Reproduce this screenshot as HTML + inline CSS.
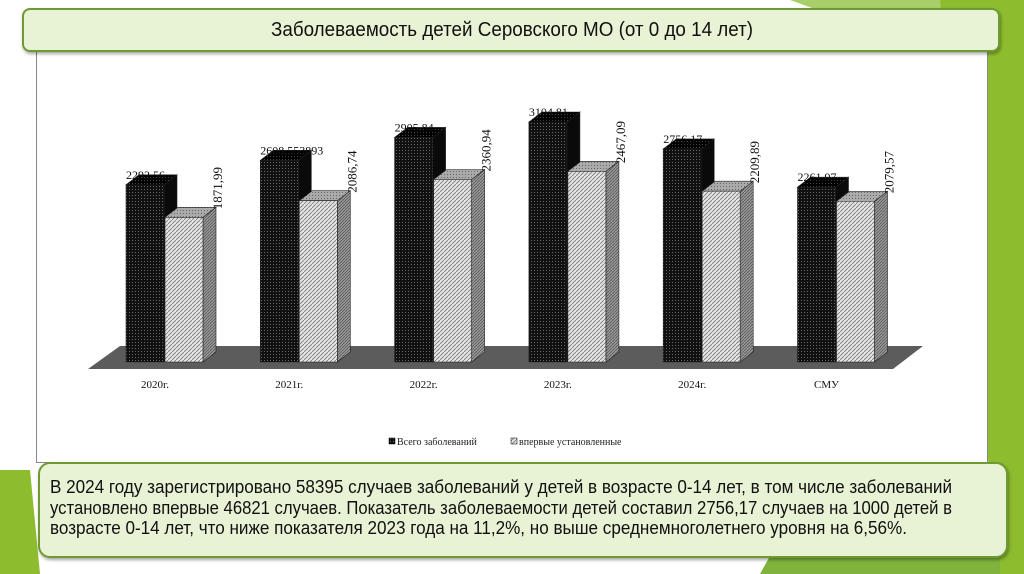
<!DOCTYPE html>
<html><head><meta charset="utf-8">
<style>
body{margin:0;width:1024px;height:574px;overflow:hidden;background:#fff;position:relative;font-family:"Liberation Sans",sans-serif;}
.abs{position:absolute;}
.fit{position:absolute;white-space:nowrap;transform-origin:0 0;}
</style></head><body>
<svg class="abs" style="left:0;top:0" width="1024" height="574">
  <polygon points="790,0 1024,0 1024,40 900,40" fill="#a9cf6a"/>
  <polygon points="940,0 1024,0 1024,574 1000,574" fill="#8dbd2e"/>
  <polygon points="0,470 30,470 40,574 0,574" fill="#8dbd2e"/>
  <polygon points="760,574 790,520 1000,520 1000,574" fill="#7fb33b"/>
</svg>
<div class="abs" style="left:36px;top:48px;width:950px;height:413px;background:#fff;border:1px solid #888;"></div>
<div class="abs" style="left:22px;top:8px;width:974px;height:40px;background:#e8f2d4;border:2px solid #6e9a34;border-radius:8px;box-shadow:1px 2px 3px rgba(0,0,0,.35);"></div>
<div class="fit" id="title" data-w="482" style="left:271px;top:19px;font-size:20px;color:#111;">Заболеваемость детей Серовского МО (от 0 до 14 лет)</div>

<svg id="chart" class="abs" style="left:0;top:0" width="1024" height="574">
 <defs>
  <pattern id="pd" width="3" height="3" patternUnits="userSpaceOnUse"><rect width="3" height="3" fill="#111"/><rect width="1" height="1" fill="#666"/></pattern>
  <pattern id="pdt" width="3" height="3" patternUnits="userSpaceOnUse"><rect width="3" height="3" fill="#000"/><rect width="1" height="1" fill="#444"/></pattern>
  <pattern id="pl" width="4" height="4" patternUnits="userSpaceOnUse"><rect width="4" height="4" fill="#e4e4e4"/><path d="M0,4 L4,0" stroke="#777" stroke-width="0.8"/></pattern>
  <pattern id="pls" width="3" height="3" patternUnits="userSpaceOnUse"><rect width="3" height="3" fill="#999"/><path d="M0,3 L3,0" stroke="#555" stroke-width="0.8"/></pattern>
  <pattern id="plt" width="3" height="3" patternUnits="userSpaceOnUse"><rect width="3" height="3" fill="#aaa"/><rect width="1" height="1" fill="#666"/></pattern>
 </defs>
 <polygon points="88,369 893,369 923,346 120,346" fill="#5c5c5c"/>
 <g id="bars"></g>
 <g id="labels"></g>
 <g font-family="Liberation Serif" font-size="10" fill="#222">
  <rect x="389" y="438" width="6" height="6" fill="url(#pd)" stroke="#000" stroke-width="0.5"/>
  <text x="397" y="445">Всего заболеваний</text>
  <rect x="511" y="438" width="6" height="6" fill="url(#pl)" stroke="#000" stroke-width="0.5"/>
  <text x="519" y="445">впервые установленные</text>
 </g>
</svg>

<div class="abs" style="left:38px;top:462px;width:966px;height:92px;background:#e8f2d4;border:2px solid #6e9a34;border-radius:12px;box-shadow:1px 2px 3px rgba(0,0,0,.35);"></div>
<div class="fit" data-w="902" style="left:50px;top:477px;font-size:18px;color:#111;">В 2024 году зарегистрировано 58395 случаев заболеваний у детей в возрасте 0-14 лет, в том числе заболеваний</div>
<div class="fit" data-w="902" style="left:50px;top:498px;font-size:18px;color:#111;">установлено впервые 46821 случаев. Показатель заболеваемости детей составил 2756,17 случаев на 1000 детей в</div>
<div class="fit" data-w="857" style="left:50px;top:518px;font-size:18px;color:#111;">возрасте 0-14 лет, что ниже показателя 2023 года на 11,2%, но выше среднемноголетнего уровня на 6,56%.</div>

<script>
const categories = ["2020г.","2021г.","2022г.","2023г.","2024г.","СМУ"];
const totalValues = [2292.56, 2608.553893, 2905.84, 3104.81, 2756.17, 2261.97];
const newValues = [1871.99, 2086.74, 2360.94, 2467.09, 2209.89, 2079.57];
const totalLabels = ["2292,56","2608,553893","2905,84","3104,81","2756,17","2261,97"];
const newLabels = ["1871,99","2086,74","2360,94","2467,09","2209,89","2079,57"];

const NS="http://www.w3.org/2000/svg";
const base=362, scale=0.0773, x0=126, step=134.3, bw=38, dx=13, dy=10;
function xPos(i){return x0+i*step;}
function yPos(v){return base-v*scale;}
const bars=document.getElementById('bars'), labels=document.getElementById('labels');
function poly(pts,fill,name){
  const p=document.createElementNS(NS,'polygon');
  p.setAttribute('points',pts.map(a=>a.join(',')).join(' '));
  p.setAttribute('fill',fill);p.setAttribute('stroke','#222');p.setAttribute('stroke-width','0.6');
  
  
  bars.appendChild(p);
}
function bar3d(x,v,front,side,top,name){
  const y=yPos(v);
  poly([[x+bw,base],[x+bw+dx,base-dy],[x+bw+dx,y-dy],[x+bw,y]],side,name+'-side');
  poly([[x,y],[x+dx,y-dy],[x+bw+dx,y-dy],[x+bw,y]],top,name+'-top');
  poly([[x,base],[x+bw,base],[x+bw,y],[x,y]],front,name);
}
function txt(x,y,s,name,rot,size,anchor){
  const t=document.createElementNS(NS,'text');
  t.setAttribute('x',x);t.setAttribute('y',y);t.textContent=s;
  t.setAttribute('font-family','Liberation Serif');t.setAttribute('font-size',size||12);t.setAttribute('fill','#111');
  if(anchor){t.setAttribute('text-anchor',anchor);}
  if(rot){t.setAttribute('transform','rotate(-90 '+x+' '+y+')');}
  
  
  labels.appendChild(t);
}
categories.forEach((c,i)=>{
  const x=xPos(i);
  bar3d(x,totalValues[i],'url(#pd)','#0a0a0a','url(#pdt)','bar-total-'+i);
  bar3d(x+bw+1,newValues[i],'url(#pl)','url(#pls)','url(#plt)','bar-new-'+i);
  txt(x,yPos(totalValues[i])-6,totalLabels[i],'value-label-total-'+i);
  txt(x+2*bw+dx+7,yPos(newValues[i])-8,newLabels[i],'value-label-new-'+i,true,13);
  txt(x+29,388,c,'category-label-'+i,false,11,'middle');
});
document.querySelectorAll('.fit').forEach(el=>{
  const w=+el.dataset.w, a=el.getBoundingClientRect().width;
  el.style.transform='scaleX('+(w/a)+')';
});
</script>
</body></html>
